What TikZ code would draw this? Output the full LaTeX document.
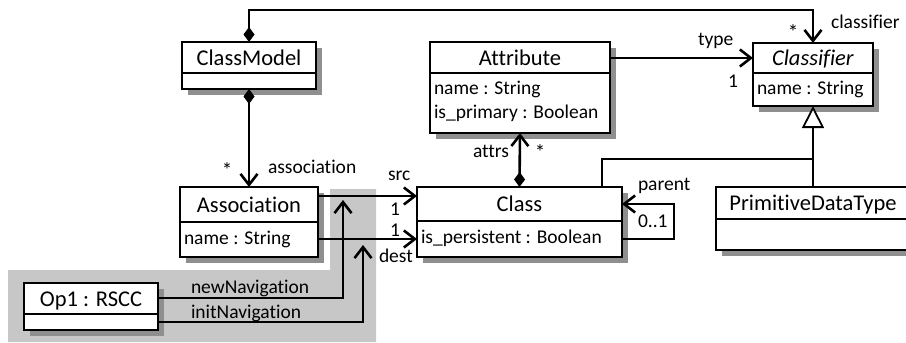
\documentclass[tikz,border=0pt]{standalone}
\usepackage{fontspec}
\setmainfont{Carlito}[Ligatures=NoCommon]
\usetikzlibrary{arrows.meta,shadows}
\tikzset{
  umldia/.tip={Diamond[length=15pt,width=11pt]},
  umlnav/.tip={Straight Barb[length=11pt,width=17pt]},
  umlgen/.tip={Triangle[open,length=22pt,width=22pt,fill=white]},
}
\begin{document}
\begin{tikzpicture}[x=1pt,y=-1pt,
  every node/.style={inner sep=0pt, outer sep=0pt},
  umlbox/.style={draw, line width=2.2pt, fill=white, anchor=north west,
     drop shadow={shadow xshift=6pt, shadow yshift=-6pt, fill=black!44, opacity=1}},
  ttl/.style={anchor=base, font=\fontsize{22.5pt}{27pt}\selectfont},
  attr/.style={anchor=base west, font=\fontsize{19.5pt}{23pt}\selectfont},
  lbl/.style={anchor=base west, font=\fontsize{19.5pt}{23pt}\selectfont},
  star/.style={anchor=center, font=\fontsize{21pt}{23pt}\selectfont},
  divline/.style={line width=2.2pt},
  conn/.style={line width=2.6pt, line join=miter},
  genline/.style={line width=1.8pt},
]
\useasboundingbox (0,0) rectangle (906,343);
% highlighted region
\fill[black!22] (330,189) -- (376,189) -- (376,342) -- (8,342) -- (8,270) -- (330,270) -- cycle;

% boxes
\node[umlbox, minimum width=134pt, minimum height=47pt] (cm) at (182,42) {};
\draw[divline] (cm.west |- 0,73) -- (cm.east |- 0,73);
\node[ttl] (cmT) at (249,65) {ClassModel};

\node[umlbox, minimum width=180pt, minimum height=91pt] (att) at (430,42) {};
\draw[divline] (att.west |- 0,73) -- (att.east |- 0,73);
\node[ttl] (attT) at (520,65) {Attribute};
\node[attr] (attA1) at (434,94) {name : String};
\node[attr] (attA2) at (434,118) {is\_primary : Boolean};

\node[umlbox, minimum width=120pt, minimum height=63pt] (clf) at (753,43) {};
\draw[divline] (clf.west |- 0,73) -- (clf.east |- 0,73);
\node[ttl] (clfT) at (813,65) {\textit{Classifier}};
\node[attr] (clfA1) at (757,94) {name : String};

\node[umlbox, minimum width=138pt, minimum height=70pt] (asc) at (180,187) {};
\draw[divline] (asc.west |- 0,222) -- (asc.east |- 0,222);
\node[ttl] (ascT) at (249,212) {Association};
\node[attr] (ascA1) at (184,244) {name : String};

\node[umlbox, minimum width=205pt, minimum height=70pt] (cls) at (417,187) {};
\draw[divline] (cls.west |- 0,221) -- (cls.east |- 0,221);
\node[ttl] (clsT) at (519.5,211.5) {Class};
\node[attr] (clsA1) at (421,243) {is\_persistent : Boolean};

\node[umlbox, minimum width=194pt, minimum height=63pt] (pdt) at (716,187) {};
\draw[divline] (pdt.west |- 0,219) -- (pdt.east |- 0,219);
\node[ttl] (pdtT) at (813,210.5) {PrimitiveDataType};

\node[umlbox, minimum width=134pt, minimum height=47pt] (op) at (24,283) {};
\draw[divline] (op.west |- 0,314) -- (op.east |- 0,314);
\node[ttl] (opT) at (91,306) {Op1 : RSCC};

% connectors
\draw[conn, umldia-umlnav] (cm.north) -- (cm.north |- 0,10) -| (clf.north);
\draw[conn, umldia-umlnav] (cm.south) -- (asc.north);
\draw[conn, -umlnav] (att.east |- 0,58) -- (clf.west |- 0,58);
\draw[conn, umldia-umlnav] (cls.north) -- (att.south);
\draw[conn, -umlnav] (asc.east |- 0,196) -- (cls.west |- 0,196);
\draw[conn, -umlnav] (asc.east |- 0,239) -- (cls.west |- 0,239);
\draw[conn, -umlnav] (cls.east |- 0,239) -| (674,204) -- (cls.east |- 0,204);
\draw[genline] (cls.north -| 602,0) |- (pdt.north |- 0,159);
\draw[genline, -umlgen] (pdt.north) -- (clf.south);
\draw[conn, -umlnav] (op.east |- 0,298) -| (343,200);
\draw[conn, -umlnav] (op.east |- 0,322) -| (363,245);

% labels
\node[lbl] (lcls) at (831,28) {classifier};
\node[star] (scls) at (793,32) {*};
\node[lbl] (ltype) at (698,45) {type};
\node[lbl] (ltype1) at (728,87) {1};
\node[lbl] (lassoc) at (268,173) {association};
\node[star] (sassoc) at (227,170) {*};
\node[lbl] (lattrs) at (473,157) {attrs};
\node[star] (sattrs) at (540,152) {*};
\node[lbl] (lsrc) at (388,180) {src};
\node[lbl] (lsrc1) at (390,215) {1};
\node[lbl] (ldest1) at (390,236) {1};
\node[lbl] (ldest) at (379,262) {dest};
\node[lbl] (lpar) at (638,190) {parent};
\node[lbl] (lpar1) at (638,227) {0..1};
\node[lbl] (lnew) at (191,293) {newNavigation};
\node[lbl] (linit) at (191,318) {initNavigation};
\end{tikzpicture}
\end{document}
